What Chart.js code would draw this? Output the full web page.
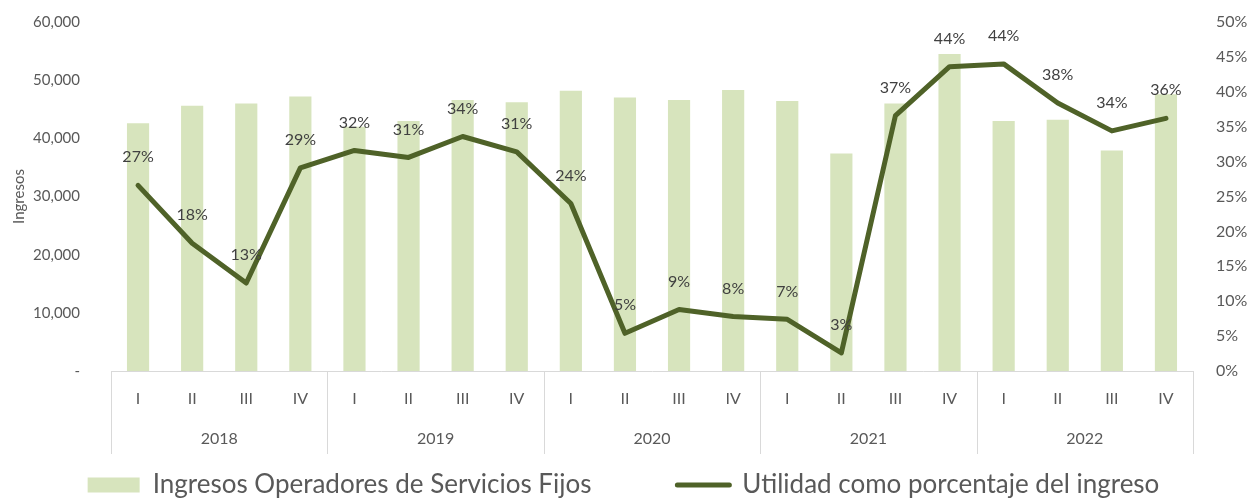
<!DOCTYPE html>
<html>
<head>
<meta charset="utf-8">
<script src="https://cdn.jsdelivr.net/npm/chart.js@4/dist/chart.umd.min.js"></script>
<style>
   html, body { margin: 0; padding: 0; background: #ffffff; }
   #wrap { width: 1247px; height: 498px; }
</style>
</head>
<body>
<div id="wrap"><canvas id="grafico" width="1247" height="498"></canvas></div>
<script>

/* datos */
const trimestres = [
   "I","II","III","IV", "I","II","III","IV", "I","II","III","IV",
   "I","II","III","IV", "I","II","III","IV"
];

const anios = ["2018","2019","2020","2021","2022"];

const ingresos = [
   42600, 45600, 46000, 47200,
   42000, 43000, 46600, 46200,
   48200, 47000, 46600, 48300,
   46400, 37400, 46000, 54500,
   43000, 43200, 37900, 47600
];

const utilidadPct = [
   0.266, 0.183, 0.126, 0.291,
   0.316, 0.306, 0.336, 0.314,
   0.240, 0.054, 0.088, 0.078,
   0.074, 0.026, 0.366, 0.436,
   0.440, 0.384, 0.344, 0.362
];

const ticksIzq = [0, 10000, 20000, 30000, 40000, 50000, 60000];

const colorBarra = "#d7e4bd";
const colorLinea = "#4f6228";
const colorTexto = "#595959";
const colorBorde = "#d9d9d9";
const fuente = "Lato";

/* separadores de años (debajo del eje) */
const separadores = {

   id: "separadores",

   afterDraw(chart){

      let ctx = chart.ctx;
      let x = chart.scales.x;
      let x2 = chart.scales.x2;
      let mitad = (x.getPixelForValue(1) - x.getPixelForValue(0)) / 2;

      ctx.save();
      ctx.strokeStyle = colorBorde;
      ctx.lineWidth = 1;

      for(let i = 0; i <= trimestres.length; i += 4){

         let px = Math.round(x.getPixelForValue(i) - mitad) + 0.5;

         ctx.beginPath();
         ctx.moveTo(px, x.top);
         ctx.lineTo(px, x2.top + 35);
         ctx.stroke();

      }

      ctx.restore();

   }

};

/* etiquetas de porcentaje sobre la línea */
const etiquetas = {

   id: "etiquetas",

   afterDatasetsDraw(chart){

      let ctx = chart.ctx;
      let meta = chart.getDatasetMeta(1);

      ctx.save();
      ctx.font = "16px " + fuente;
      ctx.fillStyle = "#404040";
      ctx.textAlign = "center";
      ctx.textBaseline = "middle";

      meta.data.forEach((punto, i) => {

         let txt = Math.round(utilidadPct[i] * 100) + "%";
         ctx.fillText(txt, punto.x, punto.y - 28);

      });

      ctx.restore();

   }

};

function sinRelleno(scale, ancho){

   scale.width = ancho;
   scale.paddingTop = 0;
   scale.paddingBottom = 0;

}

new Chart(document.getElementById("grafico"), {

   data: {

      labels: trimestres,

      datasets: [

         {
            type: "bar",
            label: "Ingresos Operadores de Servicios Fijos",
            data: ingresos,
            backgroundColor: colorBarra,
            barPercentage: 0.41,
            categoryPercentage: 1,
            yAxisID: "y",
            order: 1
         },

         {
            type: "line",
            label: "Utilidad como porcentaje del ingreso",
            data: utilidadPct,
            borderColor: colorLinea,
            backgroundColor: colorLinea,
            borderWidth: 5,
            borderJoinStyle: "round",
            borderCapStyle: "round",
            pointRadius: 0,
            tension: 0,
            yAxisID: "y1",
            order: 0
         }

      ]

   },

   options: {

      responsive: false,
      animation: false,

      layout: {
         autoPadding: false,
         padding: { top: 22, right: 0, left: 0, bottom: -10 }
      },

      plugins: {

         tooltip: { enabled: false },

         legend: {

            position: "bottom",

            labels: {

               color: colorTexto,
               font: { family: fuente, size: 26 },
               usePointStyle: true,
               pointStyleWidth: 52,
               boxHeight: 15,
               padding: 6,

               generateLabels(chart){

                  let ds = chart.data.datasets;

                  return [
                     {
                        text: ds[0].label + "            ",
                        fillStyle: colorBarra,
                        strokeStyle: colorBarra,
                        lineWidth: 0,
                        pointStyle: "rect",
                        fontColor: colorTexto,
                        datasetIndex: 0
                     },
                     {
                        text: ds[1].label,
                        fillStyle: colorLinea,
                        strokeStyle: colorLinea,
                        lineWidth: 5,
                        lineCap: "round",
                        pointStyle: "line",
                        fontColor: colorTexto,
                        datasetIndex: 1
                     }
                  ];

               }

            }

         }

      },

      scales: {

         x: {
            position: "bottom",
            grid: { display: false },
            border: { display: true, color: colorBorde, width: 1 },
            ticks: {
               color: colorTexto,
               font: { family: fuente, size: 16 },
               padding: 10,
               maxRotation: 0,
               autoSkip: false
            },
            afterFit(scale){ scale.height = 48; }
         },

         x2: {
            type: "category",
            position: "bottom",
            labels: anios,
            offset: true,
            grid: { display: false },
            border: { display: false },
            ticks: {
               color: colorTexto,
               font: { family: fuente, size: 16 },
               padding: 2,
               maxRotation: 0
            },
            afterFit(scale){ scale.height = 47; }
         },

         y: {
            position: "left",
            min: 0,
            max: 60000,
            grid: { display: false },
            border: { display: false },
            afterBuildTicks(scale){
               scale.ticks = ticksIzq.map(v => ({ value: v }));
            },
            ticks: {
               color: colorTexto,
               font: { family: fuente, size: 15 },
               padding: 23,
               callback(v){
                  return v === 0 ? "-" : v.toLocaleString("en-US");
               }
            },
            title: {
               display: true,
               text: "Ingresos",
               color: colorTexto,
               font: { family: fuente, size: 15 },
               padding: { top: 10, bottom: 0 }
            },
            afterFit(scale){ sinRelleno(scale, 111); }
         },

         y1: {
            position: "right",
            min: 0,
            max: 0.5,
            grid: { display: false },
            border: { display: false },
            ticks: {
               stepSize: 0.05,
               color: colorTexto,
               font: { family: fuente, size: 16 },
               padding: 15,
               callback(v){
                  return Math.round(v * 100) + "%";
               }
            },
            afterFit(scale){ sinRelleno(scale, 54); }
         }

      }

   },

   plugins: [separadores, etiquetas]

});

</script>
</body>
</html>
